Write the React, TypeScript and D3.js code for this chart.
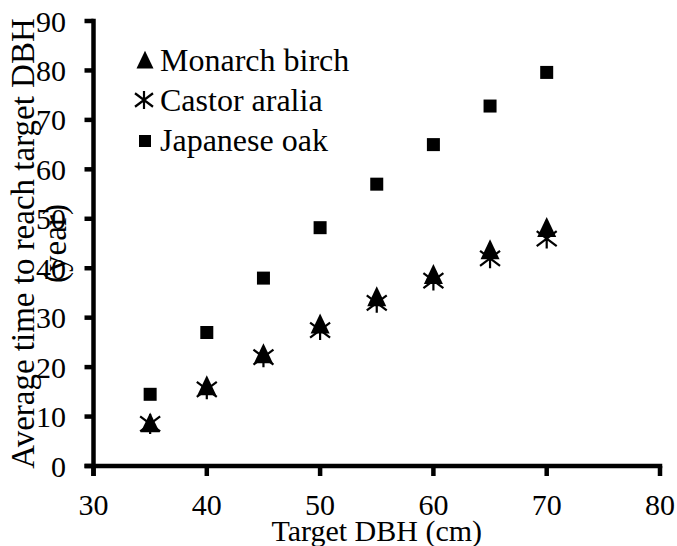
import React from "react";
import * as d3 from "d3";

const dbh = [35, 40, 45, 50, 55, 60, 65, 70];
const monarchBirch = [8.5, 16, 22.5, 28.5, 34, 38.5, 43.5, 48];
const castorAralia = [8.5, 15.5, 22, 27.5, 33, 37.5, 42, 46];
const japaneseOak = [14.5, 27, 38, 48.2, 57, 65, 72.8, 79.6];
const xTicks = [30, 40, 50, 60, 70, 80];
const yTicks = [0, 10, 20, 30, 40, 50, 60, 70, 80, 90];
const seriesNames = ["Monarch birch", "Castor aralia", "Japanese oak"];

const W = 677;
const H = 546;
const FONT = '"Liberation Serif", "Times New Roman", "DejaVu Serif", serif';
const ts: React.CSSProperties = { fontFamily: FONT };

const Triangle = ({ x, y, s = 19 }: { x: number; y: number; s?: number }) => {
  const h = s * 1.05;
  const p = d3.path();
  p.moveTo(x, y - h * 0.58);
  p.lineTo(x + s / 2, y + h * 0.42);
  p.lineTo(x - s / 2, y + h * 0.42);
  p.closePath();
  return <path d={p.toString()} fill="#000" />;
};

const Star = ({ x, y, s = 10 }: { x: number; y: number; s?: number }) => {
  const p = d3.path();
  p.moveTo(x - s, y - s * 0.75);
  p.lineTo(x + s, y + s * 0.75);
  p.moveTo(x - s, y + s * 0.75);
  p.lineTo(x + s, y - s * 0.75);
  p.moveTo(x, y - s);
  p.lineTo(x, y + s);
  return <path d={p.toString()} stroke="#000" strokeWidth={2.2} fill="none" />;
};

const Square = ({ x, y, s = 13 }: { x: number; y: number; s?: number }) => (
  <rect x={x - s / 2} y={y - s / 2} width={s} height={s} fill="#000" />
);

export default function App() {
  const x = d3.scaleLinear().domain([30, 80]).range([93.5, 660]);
  const y = d3.scaleLinear().domain([0, 90]).range([466, 21]);
  const axisW = 4.5;

  return (
    <svg
      width={W}
      height={H}
      style={{ position: "absolute", left: 0, top: 0, background: "#fff" }}
    >
      <rect width={W} height={H} fill="#fff" />
      {/* Y axis */}
      <line x1={x(30)} x2={x(30)} y1={y(90) - axisW / 2} y2={y(0) + 10} stroke="#000" strokeWidth={axisW} />
      {yTicks.map((t) => (
        <g key={"y" + t}>
          <line x1={x(30) - 9} x2={x(30)} y1={y(t)} y2={y(t)} stroke="#000" strokeWidth={axisW} />
          <text x={66} y={y(t)} dy="0.35em" textAnchor="end" fontSize={30} style={ts}>
            {t}
          </text>
        </g>
      ))}
      {/* X axis */}
      <line x1={x(30) - 9} x2={x(80) + axisW / 2} y1={y(0)} y2={y(0)} stroke="#000" strokeWidth={axisW} />
      {xTicks.map((t) => (
        <g key={"x" + t}>
          <line x1={x(t)} x2={x(t)} y1={y(0)} y2={y(0) + 10} stroke="#000" strokeWidth={axisW} />
          <text x={x(t)} y={515} textAnchor="middle" fontSize={30} style={ts}>
            {t}
          </text>
        </g>
      ))}
      {/* Axis titles */}
      <text x={(x(30) + x(80)) / 2} y={541} textAnchor="middle" fontSize={30} style={ts}>
        Target DBH (cm)
      </text>
      <text
        transform={`translate(34, ${(y(0) + y(90)) / 2}) rotate(-90)`}
        textAnchor="middle"
        fontSize={33}
        style={ts}
      >
        Average time to reach target DBH
      </text>
      <text
        transform={`translate(66, ${(y(0) + y(90)) / 2}) rotate(-90)`}
        textAnchor="middle"
        fontSize={33}
        style={ts}
      >
        (year)
      </text>
      {/* Data */}
      {dbh.map((d, i) => (
        <Triangle key={"m" + i} x={x(d)} y={y(monarchBirch[i])} />
      ))}
      {dbh.map((d, i) => (
        <Star key={"c" + i} x={x(d)} y={y(castorAralia[i])} />
      ))}
      {dbh.map((d, i) => (
        <Square key={"j" + i} x={x(d)} y={y(japaneseOak[i])} />
      ))}
      {/* Legend */}
      <Triangle x={145} y={61} s={17} />
      <text x={160} y={71} fontSize={32} style={ts}>{seriesNames[0]}</text>
      <Star x={144} y={100} s={9} />
      <text x={160} y={111} fontSize={32} style={ts}>{seriesNames[1]}</text>
      <Square x={145} y={141} s={12} />
      <text x={160} y={151} fontSize={32} style={ts}>{seriesNames[2]}</text>
    </svg>
  );
}
